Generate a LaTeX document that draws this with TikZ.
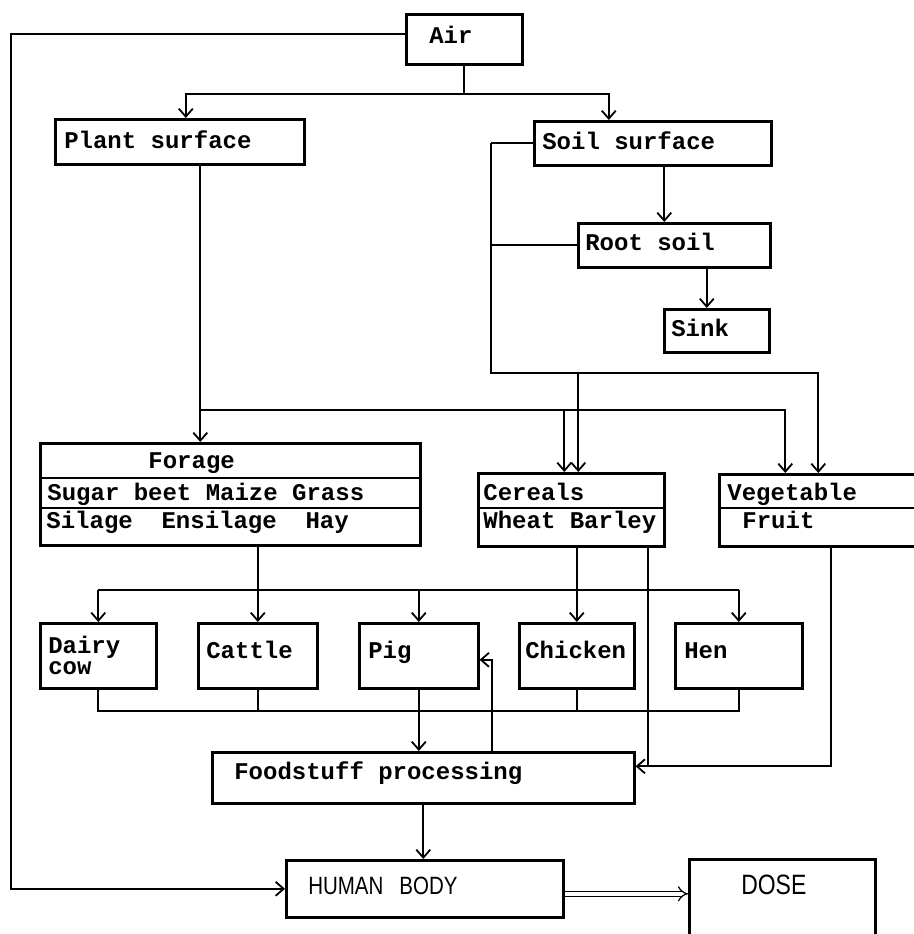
\documentclass[tikz,border=0pt]{standalone}
\usepackage{fontspec}
\usepackage{tikz}
\usetikzlibrary{arrows.meta}

\newfontfamily\typefont{Liberation Mono}
\newfontfamily\narrowsans[FakeStretch=0.82]{Liberation Sans}

\tikzset{
  box/.style={draw, line width=1.3pt, anchor=north west, inner ysep=0pt, align=left,
    font=\typefont\bfseries\fontsize{12}{10.5}\selectfont,
    execute at begin node={\spaceskip=0pt\xspaceskip=0pt\relax}},
  cellbox/.style={draw, line width=1.3pt, anchor=north west, inner sep=0pt},
  celltext/.style={anchor=base west, inner sep=0pt, font=\typefont\bfseries\fontsize{12}{14}\selectfont},
  divider/.style={line width=0.7pt},
  link/.style={line width=0.9pt},
  flow/.style={link, -{Straight Barb[length=4pt,width=7pt]}},
}

\begin{document}
\begin{tikzpicture}[x=0.5pt, y=-0.5pt]
\useasboundingbox (0,0) rectangle (914,934);

% deposition
\node[box, text width=35pt, inner xsep=11.5pt, text height=14.5pt, text depth=10.5pt] (air) at (405,13) {Air};
\node[box, text width=115.5pt, inner xsep=4.5pt, text height=14.5pt, text depth=8pt] (plant) at (54,118) {Plant surface};
\node[box, text width=110.5pt, inner xsep=4pt, text height=14pt, text depth=8pt] (soil) at (533,120) {Soil surface};
\node[box, text width=89pt, inner xsep=3.5pt, text height=13.5pt, text depth=8.5pt] (root) at (577,222) {Root soil};
\node[box, text width=45.5pt, inner xsep=3.5pt, text height=13.5pt, text depth=8pt] (sink) at (663,308) {Sink};

% crops
\node[cellbox, minimum width=190pt, minimum height=51pt] (forage) at (39,442) {};
\draw[divider] ([yshift=-18pt]forage.north west) -- ([yshift=-18pt]forage.north east);
\draw[divider] ([yshift=-33pt]forage.north west) -- ([yshift=-33pt]forage.north east);
\node[celltext] (foragehead) at (148,468) {Forage};
\node[celltext] (foragecrop) at (47,500) {Sugar beet Maize Grass};
\node[celltext] (foragefeed) at (46,528) {Silage\ \ Ensilage\ \ Hay};

\node[cellbox, minimum width=93pt, minimum height=36.5pt] (cereals) at (477,472) {};
\draw[divider] ([yshift=-18pt]cereals.north west) -- ([yshift=-18pt]cereals.north east);
\node[celltext] (cerealshead) at (483,500) {Cereals};
\node[celltext] (cerealskind) at (483,528) {Wheat Barley};

\node[cellbox, minimum width=105pt, minimum height=36pt] (veg) at (718,473) {};
\draw[divider] ([yshift=-17.5pt]veg.north west) -- ([yshift=-17.5pt]veg.north east);
\node[celltext] (veghead) at (727,500) {Vegetable};
\node[celltext] (vegfruit) at (742,528) {Fruit};

% animals
\node[box, text width=50pt, inner xsep=4pt, minimum height=32.5pt] (dairy) at (39,622) {Dairy\\cow};
\node[box, text width=51.5pt, inner xsep=4pt, text height=17.5pt, text depth=15pt] (cattle) at (197,622) {Cattle};
\node[box, text width=50.5pt, inner xsep=4.5pt, text height=17.5pt, text depth=15pt] (pig) at (358,622) {Pig};
\node[box, text width=51.5pt, inner xsep=3pt, text height=17.5pt, text depth=15pt] (chicken) at (518,622) {Chicken};
\node[box, text width=54.5pt, inner xsep=4.5pt, text height=17.5pt, text depth=15pt] (hen) at (674,622) {Hen};

% food chain end
\node[box, text width=189pt, inner xsep=11pt, text height=13.5pt, text depth=12pt] (food) at (211,751) {Foodstuff processing};
\node[box, text width=116.5pt, inner xsep=11pt, text height=17pt, text depth=11.5pt,
  font=\narrowsans\fontsize{12.5}{14}\selectfont] (human) at (285,859) {HUMAN\hspace{8pt}BODY};
\node[box, text width=41pt, inner xsep=26pt, text height=17.5pt, text depth=50pt,
  font=\narrowsans\fontsize{14}{16}\selectfont] (dose) at (688,858) {DOSE};

% inhalation
\draw[flow] ([yshift=2.5pt]air.west) -- ++(-394,0) |- (human.west);

% air to surfaces
\draw[link] (air.south) -- ++(0,28) coordinate (airfork);
\draw[flow] (airfork) -| ([xshift=3pt]plant.north);
\draw[flow] (airfork) -| ([xshift=-22pt]soil.north);
\draw[flow] ([xshift=5.75pt]soil.south) -- ([xshift=5.75pt]soil.south |- root.north);
\draw[flow] ([xshift=-5pt]sink.north |- root.south) -- ([xshift=-5pt]sink.north);

% soil uptake
\draw[link] (soil.west) -- ++(-42,0) coordinate (soilbus);
\draw[link] (root.west) -- (root.west -| soilbus);
\draw[flow] (soilbus) -- ++(0,230) coordinate (soilrail) -| ([xshift=-3pt]veg.north);
\draw[flow] ([xshift=3.5pt]cereals.north |- soilrail) -- ([xshift=3.5pt]cereals.north);

% plant surface
\draw[flow] ([xshift=-15pt]forage.north |- plant.south) -- ([xshift=-15pt]forage.north);
\draw[flow] ([xshift=-15pt]forage.north |- plant.south) -- ++(0,244) coordinate (plantrail) -| ([xshift=-19.5pt]veg.north);
\draw[flow] ([xshift=-3.5pt]cereals.north |- plantrail) -- ([xshift=-3.5pt]cereals.north);

% feeding
\draw[link] (cattle.north |- forage.south) -- ++(0,43) coordinate (feedrail);
\draw[link] (feedrail -| dairy.north) -- (feedrail -| hen.north);
\foreach \n in {dairy, cattle, pig, hen}
  \draw[flow] (feedrail -| \n.north) -- (\n.north);
\draw[flow] (chicken.north |- cereals.south) -- (chicken.north);

% animal products
\draw[link] (dairy.south) -- ++(0,21) coordinate (meatrail) -- (meatrail -| hen.south) -- (hen.south);
\foreach \n in {cattle, chicken}
  \draw[link] (\n.south) -- (\n.south |- meatrail);
\draw[flow] (pig.south) -- (pig.south |- food.north);
\draw[flow] ([xshift=34.5pt]food.north) |- ([yshift=-2pt]pig.east);

% direct crops
\coordinate (foodin) at ([yshift=5.75pt]food.east);
\draw[flow] ([xshift=3.5pt]veg.south) |- (foodin);
\draw[link] ([xshift=38.5pt]cereals.south) -- ([xshift=38.5pt]cereals.south |- foodin);

% ingestion and dose
\draw[flow] (food.south) -- (food.south |- human.north);
\coordinate (humanout) at ([yshift=-2.5pt]human.east);
\draw[double, double distance=2pt, line width=0.6pt, -{Implies}] (humanout) -- (humanout -| dose.west);
\end{tikzpicture}
\end{document}
